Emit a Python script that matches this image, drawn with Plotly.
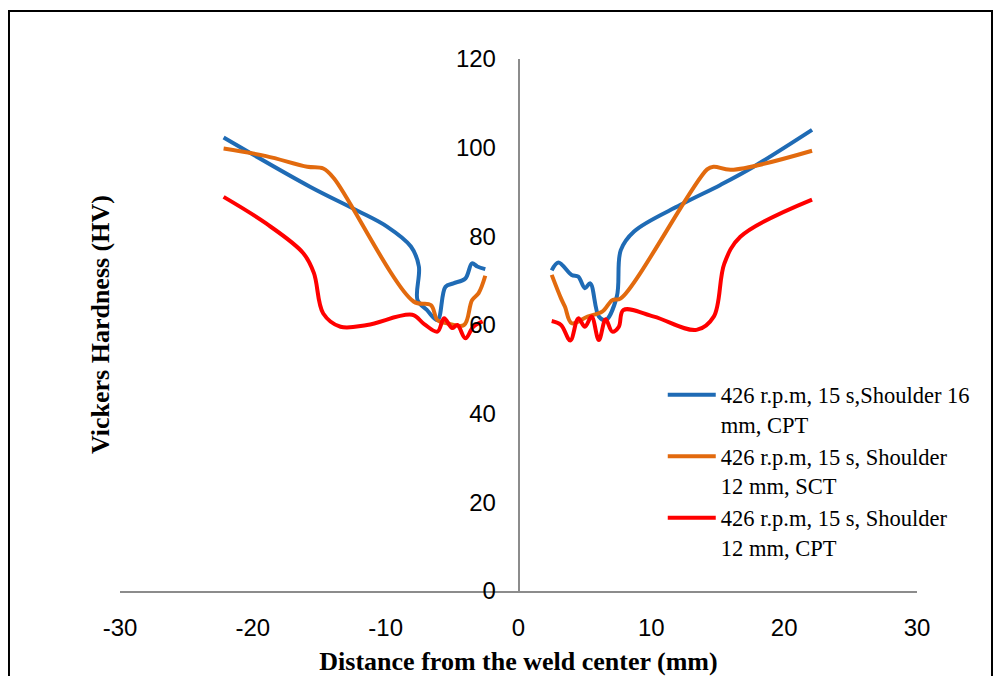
import plotly.graph_objects as go

# Series 1: 426 r.p.m, 15 s, Shoulder 16 mm, CPT (left and right of weld center)
blue_x_left = [-22.2, -15.7, -12.2, -9.9, -8.1, -7.5, -7.6, -6.9, -6.1, -5.5, -4.9, -4.0, -3.5, -3.1, -2.5]
blue_y_left = [102.3, 91.2, 85.9, 82.2, 77.7, 73.2, 65.6, 63.4, 61.1, 68.6, 69.4, 70.5, 73.9, 73.2, 72.6]
blue_x_right = [2.5, 3.0, 4.0, 4.5, 5.0, 5.4, 6.05, 6.56, 7.4, 7.7, 8.7, 12.2, 15.2, 17.7, 22.1]
blue_y_right = [72.3, 74.1, 71.3, 70.9, 68.3, 69.4, 61.9, 61.1, 66.4, 76.9, 81.1, 87.1, 91.6, 95.7, 104.0]

# Series 2: 426 r.p.m, 15 s, Shoulder 12 mm, SCT
orange_x_left = [-22.2, -19.0, -15.9, -14.7, -13.9, -7.9, -6.6, -6.1, -5.4, -4.1, -3.5, -3.0, -2.5]
orange_y_left = [99.8, 98.1, 95.7, 95.3, 93.1, 65.3, 64.5, 61.1, 60.4, 60.0, 65.6, 67.2, 71.1]
orange_x_right = [2.5, 3.2, 3.5, 4.0, 5.2, 6.3, 7.06, 7.7, 14.2, 14.7, 16.0, 22.1]
orange_y_right = [71.3, 66.0, 64.1, 60.4, 61.9, 63.0, 65.6, 66.0, 95.1, 95.7, 95.0, 99.3]

# Series 3: 426 r.p.m, 15 s, Shoulder 12 mm, CPT
red_x_left = [-22.2, -19.0, -16.2, -15.4, -14.7, -13.4, -11.4, -8.0, -7.1, -6.1, -5.6, -5.0, -4.6, -4.0, -3.4, -2.7]
red_y_left = [88.9, 82.9, 76.2, 71.7, 62.6, 59.6, 60.0, 62.3, 60.2, 58.5, 61.5, 59.3, 60.0, 57.0, 59.6, 60.8]
red_x_right = [2.5, 3.2, 3.9, 4.5, 5.0, 5.5, 6.05, 6.56, 7.06, 7.55, 7.9, 10.2, 13.4, 14.7, 15.5, 16.7, 22.1]
red_y_right = [60.9, 60.0, 56.5, 61.5, 59.6, 61.9, 56.6, 61.3, 58.5, 59.6, 63.4, 61.9, 58.9, 61.9, 73.9, 79.9, 88.3]

series_names = [
    "426 r.p.m, 15 s,Shoulder 16<br>mm, CPT",
    "426 r.p.m, 15 s, Shoulder<br>12 mm, SCT",
    "426 r.p.m, 15 s, Shoulder<br>12 mm, CPT",
]
series_colors = ["#1F6BB5", "#E26A0E", "#FF0000"]

x_ticks = [-30, -20, -10, 0, 10, 20, 30]
y_ticks = [0, 20, 40, 60, 80, 100, 120]

fig = go.Figure()
data = [
    (blue_x_left, blue_y_left, blue_x_right, blue_y_right),
    (orange_x_left, orange_y_left, orange_x_right, orange_y_right),
    (red_x_left, red_y_left, red_x_right, red_y_right),
]
for (xl, yl, xr, yr), name, color in zip(data, series_names, series_colors):
    fig.add_trace(go.Scatter(
        x=xl + [None] + xr, y=yl + [None] + yr, name=name, mode="lines",
        line=dict(color=color, width=4, shape="spline", smoothing=1),
        connectgaps=False,
    ))

tick_font = dict(family="Liberation Sans, Arial, sans-serif", size=24, color="black")
fig.update_layout(
    width=985, height=668,
    margin=dict(l=112, r=76, t=51, b=85),
    paper_bgcolor="white", plot_bgcolor="white",
    showlegend=True,
    legend=dict(
        x=0.681, y=0.4088, xanchor="left", yanchor="top", valign="top",
        font=dict(family="Liberation Serif, Times New Roman, serif", size=22.5, color="black"),
        bgcolor="rgba(0,0,0,0)", itemwidth=48, tracegroupgap=0,
    ),
    xaxis=dict(
        range=[-30, 30], tickvals=x_ticks, ticktext=[str(v) for v in x_ticks],
        showgrid=False, zeroline=False, showline=True, linecolor="#8C8C8C", linewidth=1.5,
        ticks="", tickfont=tick_font, ticklabelstandoff=14, automargin=False,
        title=dict(text="<b>Distance from the weld center (mm)</b>",
                   font=dict(family="Liberation Serif, Times New Roman, serif", size=26, color="black"),
                   standoff=15),
    ),
    yaxis=dict(
        range=[0, 120], tickvals=y_ticks, ticktext=[str(v) for v in y_ticks],
        showgrid=False, zeroline=False, showline=True, linecolor="#8C8C8C", linewidth=1.5,
        ticks="", tickfont=tick_font, ticklabelstandoff=17, automargin=False,
        anchor="free", position=0.5,
    ),
    annotations=[dict(
        text="<b>Vickers Hardness (HV)</b>", textangle=-90,
        x=-0.025, y=0.5, xref="paper", yref="paper", showarrow=False,
        xanchor="center", yanchor="middle",
        font=dict(family="Liberation Serif, Times New Roman, serif", size=26, color="black"),
    )],
    shapes=[dict(
        type="rect", xref="paper", yref="paper",
        x0=-0.1393, x1=1.0941, y0=-0.2, y1=1.0902,
        line=dict(color="black", width=2), fillcolor="rgba(0,0,0,0)", layer="below",
    )],
)

fig.write_html("out.html")
